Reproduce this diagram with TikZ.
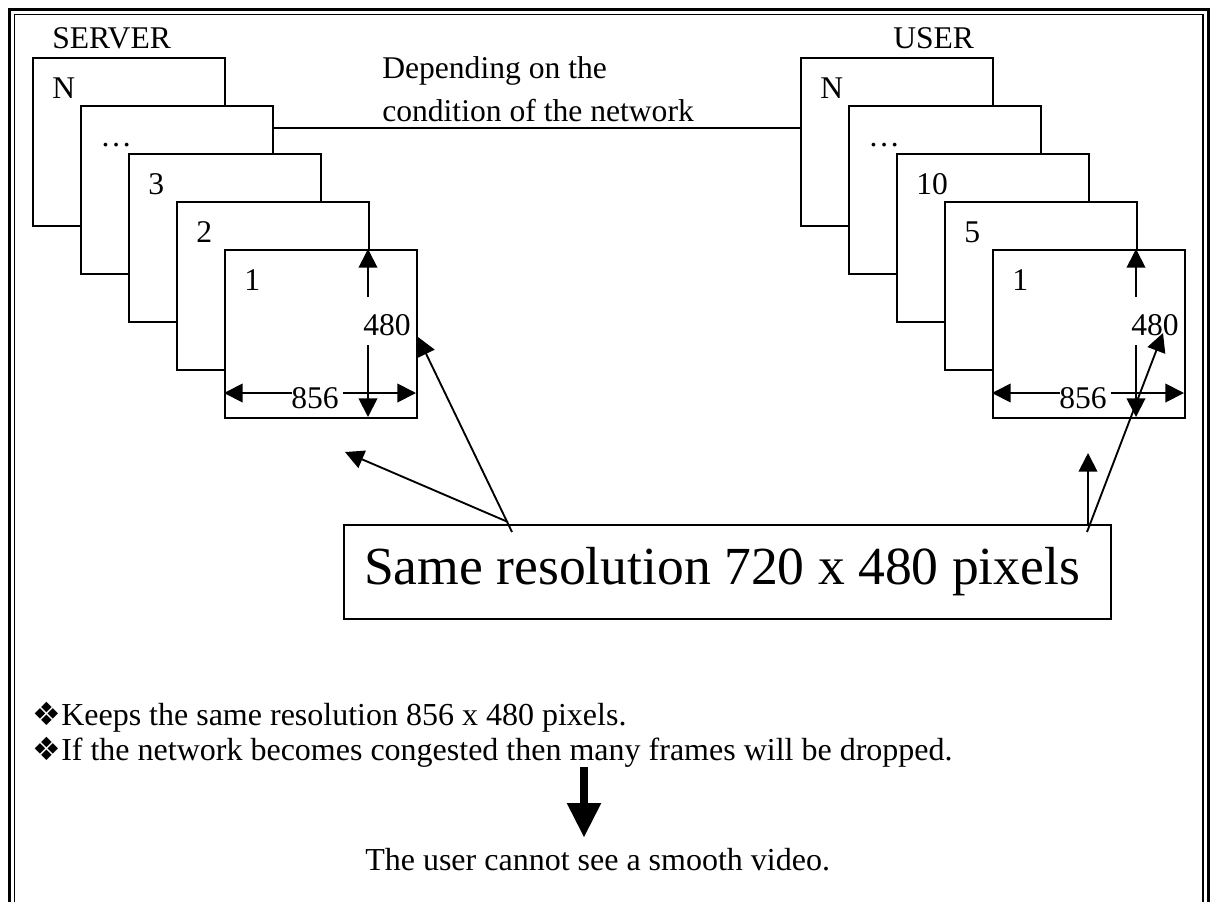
\documentclass[tikz,border=0pt]{standalone}
\usepackage{fontspec}
\setmainfont{Liberation Serif}
\newfontfamily\dejavu{DejaVu Sans}
\usetikzlibrary{arrows.meta}
\tikzset{
  frm/.style={draw, fill=white, line width=1.4pt, minimum width=144pt, minimum height=126pt, anchor=north west, inner sep=0pt},
  lbl/.style={anchor=base west, inner sep=0pt, font=\fontsize{23.7}{28}\selectfont},
  dimtxt/.style={anchor=base, inner sep=0pt, font=\fontsize{23.7}{28}\selectfont},
  dimarr/.style={line width=1.4pt, -{Triangle[length=14pt,width=14pt]}},
  conn/.style={line width=1.4pt},
  bullettxt/.style={anchor=base west, inner sep=0pt, font=\fontsize{24}{28}\selectfont},
  bulletsym/.style={anchor=base west, inner sep=0pt, font=\dejavu\fontsize{24}{28}\selectfont},
}
\begin{document}
\begin{tikzpicture}[x=0.75pt,y=-0.75pt]
\clip (0,0) rectangle (1210,901);
\fill[white] (0,0) rectangle (1210,901);
% double border
\draw[line width=2.25pt] (9.5,9.5) rectangle (1208.5,940);
\draw[line width=1.1pt] (14.5,14.5) rectangle (1203,940);

% titles
\node[lbl] (server) at (52,48) {SERVER};
\node[lbl] (user) at (893,48) {USER};

% server frames
\node[frm] (s5) at (32,57) {};
\node[lbl] (s5l) at (52,98) {N};
\node[frm] (s4) at (80,105) {};
\node[lbl] (s4l) at (100,146) {\dots};
\node[frm] (s3) at (128,153) {};
\node[lbl] (s3l) at (148,194) {3};
\node[frm] (s2) at (176,201) {};
\node[lbl] (s2l) at (196,242) {2};
\node[frm] (s1) at (224,249) {};
\node[lbl] (s1l) at (244,290) {1};

% user frames
\node[frm] (u5) at (800,57) {};
\node[lbl] (u5l) at (820,98) {N};
\node[frm] (u4) at (848,105) {};
\node[lbl] (u4l) at (868,146) {\dots};
\node[frm] (u3) at (896,153) {};
\node[lbl] (u3l) at (916,194) {10};
\node[frm] (u2) at (944,201) {};
\node[lbl] (u2l) at (964,242) {5};
\node[frm] (u1) at (992,249) {};
\node[lbl] (u1l) at (1012,290) {1};

% network connector
\coordinate (netY) at (0,128);
\draw[conn] (s4.east |- netY) -- (u5.west |- netY);
\node[lbl] (dep1) at (382,78) {Depending on the};
\node[lbl] (dep2) at (382,121) {condition of the network};

% server dimensions
\coordinate (sU0) at (368,297); \coordinate (sU1) at (368,249);
\coordinate (sD0) at (368,345); \coordinate (sD1) at (368,417);
\coordinate (sL0) at (292,393); \coordinate (sL1) at (224,393);
\coordinate (sR0) at (343,393); \coordinate (sR1) at (416,393);
\draw[dimarr] (sU0) -- (sU1);
\draw[dimarr] (sD0) -- (sD1);
\draw[dimarr] (sL0) -- (sL1);
\draw[dimarr] (sR0) -- (sR1);
\node[dimtxt] (s480) at (387,335) {480};
\node[dimtxt] (s856) at (315,408) {856};

% user dimensions
\coordinate (uU0) at (1136,297); \coordinate (uU1) at (1136,249);
\coordinate (uD0) at (1136,345); \coordinate (uD1) at (1136,417);
\coordinate (uL0) at (1060,393); \coordinate (uL1) at (992,393);
\coordinate (uR0) at (1111,393); \coordinate (uR1) at (1184,393);
\draw[dimarr] (uU0) -- (uU1);
\draw[dimarr] (uD0) -- (uD1);
\draw[dimarr] (uL0) -- (uL1);
\draw[dimarr] (uR0) -- (uR1);
\node[dimtxt] (u480) at (1155,335) {480};
\node[dimtxt] (u856) at (1083,408) {856};

% big box
\node[draw, line width=1.4pt, anchor=north west, minimum height=70.5pt, minimum width=575.25pt, inner sep=0pt, font=\fontsize{40.2}{46}\selectfont] (res) at (343,524) {Same resolution 720 x 480 pixels\hspace*{8pt}};

% arrows from the box
\coordinate (a1s) at (508,522); \coordinate (a1e) at (345,452);
\coordinate (a2s) at (512,532); \coordinate (a2e) at (418,337);
\coordinate (a3s) at (1088,524); \coordinate (a3e) at (1088,453);
\coordinate (a4s) at (1087,532); \coordinate (a4e) at (1163,333);
\draw[dimarr] (a1s) -- (a1e);
\draw[dimarr] (a2s) -- (a2e);
\draw[dimarr] (a3s) -- (a3e);
\draw[dimarr] (a4s) -- (a4e);

% bullets
\node[bulletsym] (b1s) at (32,725) {❖};
\node[bullettxt] (b1) at (61,725) {Keeps the same resolution 856 x 480 pixels.};
\node[bulletsym] (b2s) at (32,760) {❖};
\node[bullettxt] (b2) at (61,760) {If the network becomes congested then many frames will be dropped.};

% result
\coordinate (bs) at (584,767); \coordinate (be) at (584,837);
\draw[line width=6pt, -{Triangle[length=25.5pt,width=26pt,line width=0pt]}] (bs) -- (be);
\node[anchor=base west, inner sep=0pt, font=\fontsize{24}{28}\selectfont] (result) at (365,870) {The user cannot see a smooth video.};
\end{tikzpicture}
\end{document}
